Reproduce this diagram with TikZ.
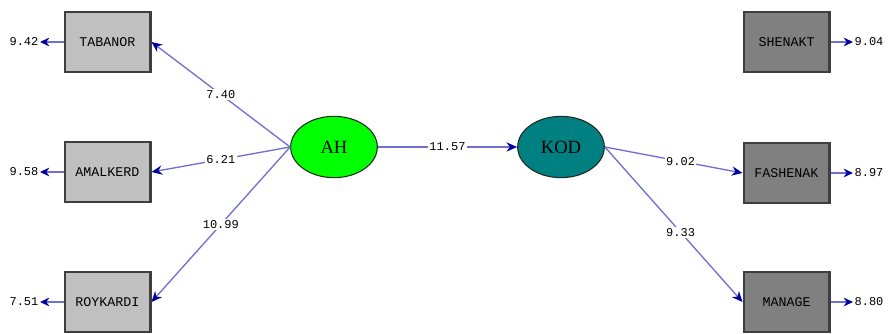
\documentclass[tikz,border=0pt]{standalone}
\usepackage{fontspec}
\setmonofont{Liberation Mono}
\newfontfamily\latentfont{Liberation Serif}
\usepackage{tikz}
\usetikzlibrary{arrows.meta}
\usetikzlibrary{shapes.geometric}
\definecolor{pathblue}{RGB}{112,112,208}
\definecolor{tipblue}{RGB}{0,0,160}
\definecolor{lightbox}{RGB}{192,192,192}
\definecolor{darkbox}{RGB}{128,128,128}
\definecolor{boxedge}{RGB}{62,62,62}
\definecolor{ahgreen}{RGB}{0,255,0}
\definecolor{kodteal}{RGB}{0,128,128}
\tikzstyle{observed}=[draw=boxedge, line width=2pt, minimum width=64pt, minimum height=45pt, inner sep=0,
                      font=\ttfamily\fontsize{10}{11}\selectfont]
\tikzstyle{xobs}=[observed, fill=lightbox]
\tikzstyle{yobs}=[observed, fill=darkbox]
\tikzstyle{latent}=[ellipse, draw=black!85, line width=0.8pt, minimum width=65pt, minimum height=46pt, inner sep=0,
                    font=\latentfont\fontsize{14}{15}\selectfont]
\tikzstyle{loading}=[draw=pathblue, line width=1pt, -{Stealth[length=8pt, width=7pt, color=tipblue]}]
\tikzstyle{errarrow}=[draw=pathblue, line width=1.8pt, -{Stealth[length=7pt, width=6.5pt, color=tipblue]}]
\tikzstyle{est}=[fill=white, inner sep=1pt, font=\ttfamily\fontsize{9}{10}\selectfont]

\begin{document}
\begin{tikzpicture}[x=0.75pt, y=-0.75pt]
        \useasboundingbox (0, 0) rectangle (890, 334);
        % observed variables
        \node[xobs] (tab) at (107.5, 42) {TABANOR};
        \node[xobs] (ama) at (107.5, 172) {AMALKERD};
        \node[xobs] (roy) at (107.5, 302) {ROYKARDI};
        \node[yobs] (she) at (786.5, 42) {SHENAKT};
        \node[yobs] (fas) at (786.5, 173) {FASHENAK};
        \node[yobs] (man) at (786.5, 302) {MANAGE};
        % latent variables
        \node[latent, fill=ahgreen] (ah) at (334, 147) {AH};
        \node[latent, fill=kodteal] (kod) at (561, 147) {KOD};
        % error terms
        \node[est] (etab) at (24, 42) {9.42};
        \node[est] (eama) at (24, 172) {9.58};
        \node[est] (eroy) at (24, 302) {7.51};
        \node[est] (eshe) at (869, 42) {9.04};
        \node[est] (efas) at (869, 173) {8.97};
        \node[est] (eman) at (869, 302) {8.80};
        \draw[errarrow] (tab.west) -- (etab.east);
        \draw[errarrow] (ama.west) -- (eama.east);
        \draw[errarrow] (roy.west) -- (eroy.east);
        \draw[errarrow] (she.east) -- (eshe.west);
        \draw[errarrow] (fas.east) -- (efas.west);
        \draw[errarrow] (man.east) -- (eman.west);
        % loadings
        \draw[loading] (ah.west) -- node[est] {7.40} (tab.east);
        \draw[loading] (ah.west) -- node[est] {6.21} (ama.east);
        \draw[loading] (ah.west) -- node[est] {10.99} (roy.east);
        \draw[loading] (ah.east) -- node[est] {11.57} (kod.west);
        \draw[loading] (kod.east) -- node[est, pos=0.55] {9.02} (fas.west);
        \draw[loading] (kod.east) -- node[est, pos=0.55] {9.33} (man.west);
    \end{tikzpicture}
\end{document}
